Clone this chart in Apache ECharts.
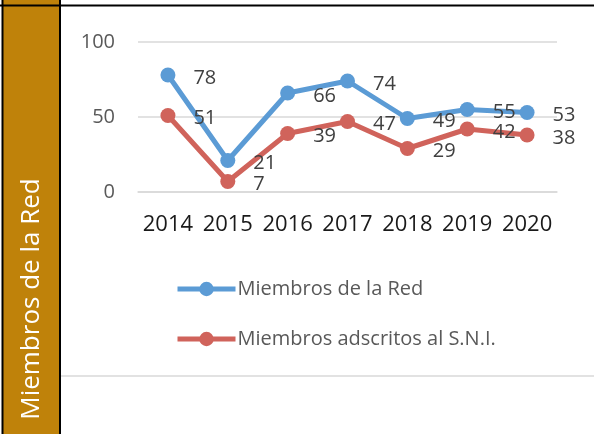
<!DOCTYPE html>
<html>
<head>
<meta charset="utf-8">
<script src="https://cdn.jsdelivr.net/npm/echarts@6/dist/echarts.min.js"></script>
<style>
  html, body { margin: 0; padding: 0; background: #fff; }
  #main { width: 594px; height: 434px; }
</style>
</head>
<body>
<div id="main"></div>
<script>
// data
var years = ['2014', '2015', '2016', '2017', '2018', '2019', '2020']
var miembrosRed = [78, 21, 66, 74, 49, 55, 53]
var miembrosSNI = [51, 7, 39, 47, 29, 42, 38]
var yTicks = [0, 50, 100]

var font = '"Open Sans", "Noto Sans", sans-serif'
var myChart = echarts.init(document.getElementById('main'))

var labelStyle = {
  show: true,
  position: 'right',
  distance: 18,
  offset: [0, 3],
  fontSize: 20,
  fontFamily: font,
  color: '#404040'
}

var option = {
  backgroundColor: '#fff',
  animation: false,
  grid: { left: 138, right: 37, top: 42, bottom: 242 },
  legend: {
    orient: 'vertical',
    left: 170,
    top: 274,
    itemWidth: 58,
    itemHeight: 18,
    itemGap: 30,
    lineStyle: { width: 5 },
    textStyle: { fontSize: 20, fontFamily: font, color: '#595959', padding: [0, 0, 0, -3] },
    data: ['Miembros de la Red', 'Miembros adscritos al S.N.I.']
  },
  xAxis: {
    type: 'category',
    data: years,
    axisLine: { lineStyle: { color: '#d9d9d9', width: 1.5 } },
    axisTick: { show: false },
    axisLabel: { interval: 0, hideOverlap: false, fontSize: 22, fontFamily: font, color: '#1a1a1a', margin: 22 }
  },
  yAxis: {
    type: 'value',
    min: yTicks[0],
    max: yTicks[yTicks.length - 1],
    interval: 50,
    splitLine: { lineStyle: { color: '#d9d9d9', width: 1.5 } },
    axisLabel: { fontSize: 20, fontFamily: font, color: '#595959', margin: 23 }
  },
  series: [
    {
      name: 'Miembros de la Red',
      type: 'line',
      data: miembrosRed,
      symbol: 'circle',
      symbolSize: 15,
      color: '#5b9bd5',
      lineStyle: { width: 5 },
      label: labelStyle
    },
    {
      name: 'Miembros adscritos al S.N.I.',
      type: 'line',
      data: miembrosSNI,
      symbol: 'circle',
      symbolSize: 15,
      color: '#d0635b',
      lineStyle: { width: 5 },
      label: labelStyle
    }
  ],
  graphic: [
    { type: 'rect', shape: { x: 3, y: 0, width: 57, height: 434 }, style: { fill: '#bf820a' }, z: -1 },
    { type: 'line', shape: { x1: 2.5, y1: 0, x2: 2.5, y2: 434 }, style: { stroke: '#000', lineWidth: 2 } },
    { type: 'line', shape: { x1: 60, y1: 0, x2: 60, y2: 434 }, style: { stroke: '#000', lineWidth: 2 } },
    { type: 'line', shape: { x1: 0, y1: 5.5, x2: 594, y2: 5.5 }, style: { stroke: '#000', lineWidth: 2 } },
    { type: 'line', shape: { x1: 61, y1: 376, x2: 594, y2: 376 }, style: { stroke: '#d9d9d9', lineWidth: 1.5 } },
    {
      type: 'text',
      x: 32,
      y: 299,
      rotation: Math.PI / 2,
      style: {
        text: 'Miembros de la Red',
        fill: '#fff',
        fontSize: 26,
        fontFamily: font,
        align: 'center',
        verticalAlign: 'middle'
      }
    }
  ]
}
myChart.setOption(option)
</script>
</body>
</html>
